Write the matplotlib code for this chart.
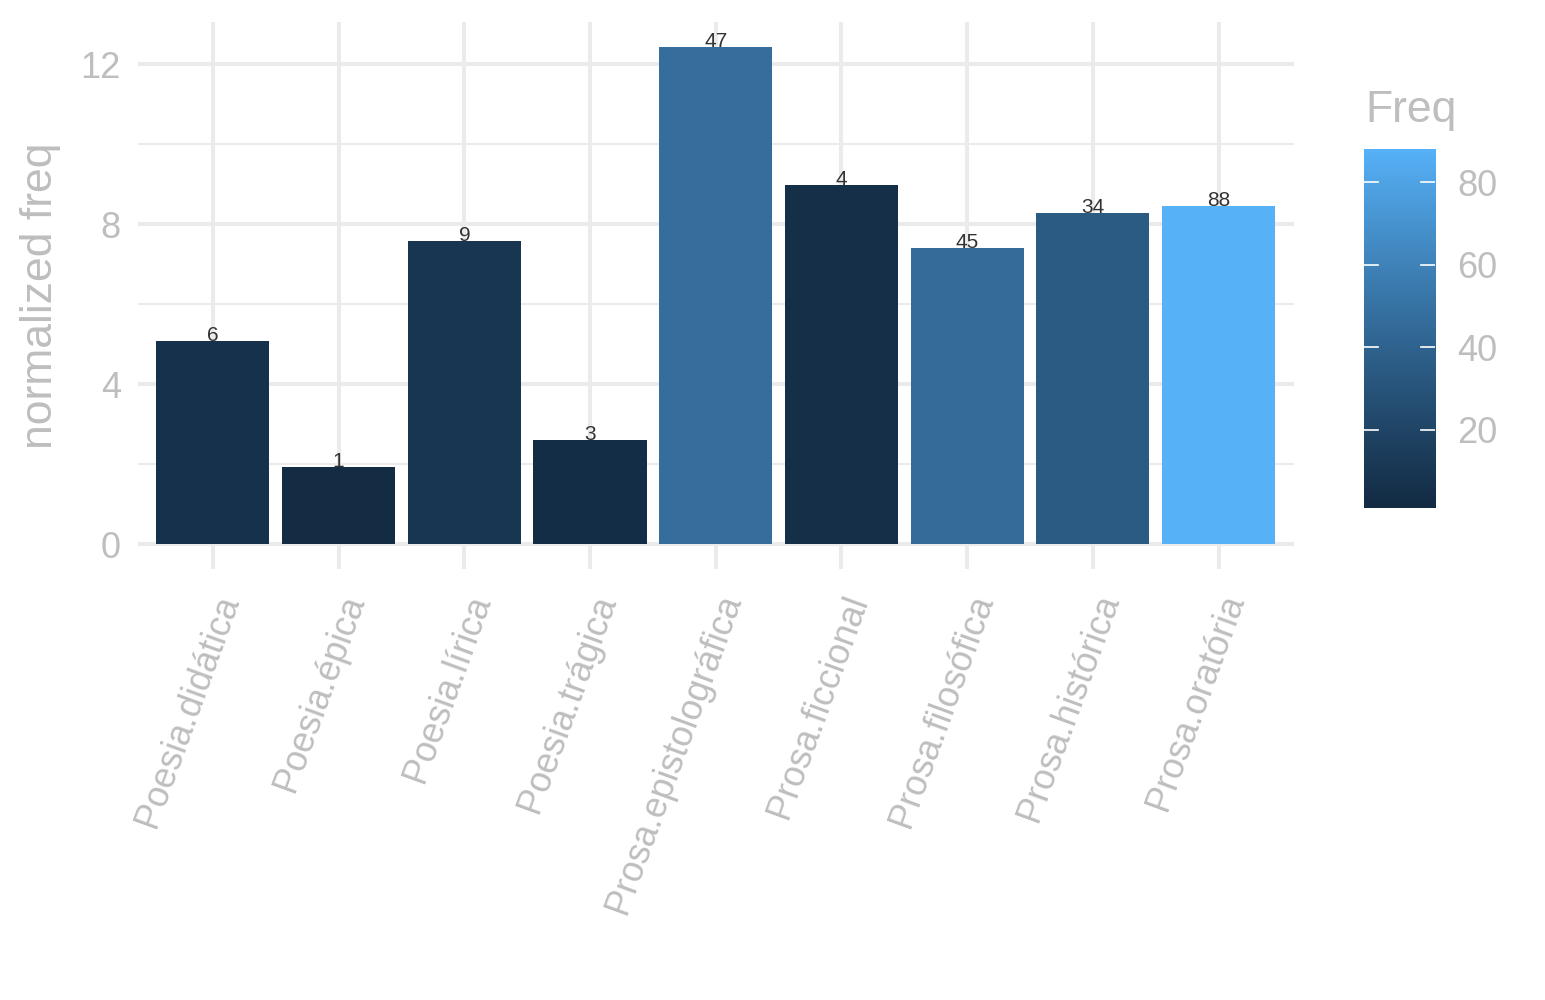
import numpy as np
import matplotlib
matplotlib.use('Agg')
import matplotlib.pyplot as plt
from matplotlib.colors import ListedColormap, Normalize

genres = ['Poesia.didática', 'Poesia.épica', 'Poesia.lírica', 'Poesia.trágica',
          'Prosa.epistolográfica', 'Prosa.ficcional', 'Prosa.filosófica',
          'Prosa.histórica', 'Prosa.oratória']
norm_freq = [5.09, 1.93, 7.57, 2.61, 12.43, 8.97, 7.39, 8.27, 8.45]
freq = [6, 1, 9, 3, 47, 4, 45, 34, 88]
y_ticks = [0, 4, 8, 12]
cb_ticks = [20, 40, 60, 80]

GREY_TEXT = '#BEBEBE'
GRID = '#EBEBEB'


def srgb_to_lab(rgb):
    rgb = np.asarray(rgb, dtype=float)
    lin = np.where(rgb <= 0.04045, rgb / 12.92, ((rgb + 0.055) / 1.055) ** 2.4)
    m = np.array([[0.4124, 0.3576, 0.1805],
                  [0.2126, 0.7152, 0.0722],
                  [0.0193, 0.1192, 0.9505]])
    xyz = m @ lin / np.array([0.95047, 1.0, 1.08883])
    f = np.where(xyz > 0.008856, np.cbrt(xyz), 7.787 * xyz + 16 / 116)
    return np.array([116 * f[1] - 16, 500 * (f[0] - f[1]), 200 * (f[1] - f[2])])


def lab_to_srgb(lab):
    L, a, b = lab
    fy = (L + 16) / 116
    fx = fy + a / 500
    fz = fy - b / 200
    f = np.array([fx, fy, fz])
    xyz = np.where(f ** 3 > 0.008856, f ** 3, (f - 16 / 116) / 7.787)
    xyz = xyz * np.array([0.95047, 1.0, 1.08883])
    m = np.array([[3.2406, -1.5372, -0.4986],
                  [-0.9689, 1.8758, 0.0415],
                  [0.0557, -0.2040, 1.0570]])
    lin = m @ xyz
    rgb = np.where(lin <= 0.0031308, 12.92 * lin, 1.055 * np.clip(lin, 0, None) ** (1 / 2.4) - 0.055)
    return np.clip(rgb, 0, 1)


low = srgb_to_lab([0x13 / 255, 0x2B / 255, 0x43 / 255])
high = srgb_to_lab([0x56 / 255, 0xB1 / 255, 0xF7 / 255])
cmap = ListedColormap([lab_to_srgb(low + t * (high - low)) for t in np.linspace(0, 1, 256)])
cnorm = Normalize(vmin=min(freq), vmax=max(freq))

plt.rcParams['font.family'] = ['Liberation Sans', 'DejaVu Sans']

fig = plt.figure(figsize=(15.45, 10), dpi=100)
ax = fig.add_axes([0.089, 0.431, 0.7485, 0.547])

x = np.arange(1, len(genres) + 1)
ax.bar(x, norm_freq, width=0.9, color=cmap(cnorm(freq)), zorder=3)
for xi, v, f in zip(x, norm_freq, freq):
    ax.text(xi, v, str(f), ha='center', va='baseline', fontsize=15, color='#333333', zorder=4)

ymax = max(norm_freq)
ax.set_xlim(0.4, len(genres) + 0.6)
ax.set_ylim(-0.05 * ymax, ymax * 1.05)
ax.set_yticks(y_ticks)
ax.set_yticks([2, 6, 10], minor=True)
ax.set_xticks(x)
ax.set_xticklabels(genres, rotation=70, ha='right', va='top', rotation_mode='anchor')
ax.grid(True, which='major', color=GRID, linewidth=2.9, zorder=0)
ax.grid(True, which='minor', axis='y', color=GRID, linewidth=1.5, zorder=0)
ax.tick_params(which='both', length=0, colors=GREY_TEXT, labelsize=26)
ax.tick_params(axis='y', pad=12)
ax.tick_params(axis='x', pad=15)
for s in ax.spines.values():
    s.set_visible(False)
ax.set_ylabel('normalized freq', fontsize=32, color=GREY_TEXT, labelpad=14)

# colour bar legend
cax = fig.add_axes([0.8828, 0.492, 0.046, 0.359])
grad = np.linspace(min(freq), max(freq), 300).reshape(-1, 1)
cax.imshow(grad, aspect='auto', origin='lower', cmap=cmap, norm=cnorm,
           extent=[0, 1, min(freq), max(freq)])
for t in cb_ticks:
    cax.plot([0, 0.2], [t, t], color='white', linewidth=1.2)
    cax.plot([0.8, 1], [t, t], color='white', linewidth=1.2)
cax.set_xlim(0, 1)
cax.set_ylim(min(freq), max(freq))
cax.set_xticks([])
cax.yaxis.tick_right()
cax.set_yticks(cb_ticks)
cax.tick_params(length=0, colors=GREY_TEXT, labelsize=26, pad=16)
for s in cax.spines.values():
    s.set_visible(False)
fig.text(0.8835, 0.878, 'Freq', fontsize=32, color=GREY_TEXT, ha='left', va='baseline')

fig.savefig('out.png', dpi=100)
